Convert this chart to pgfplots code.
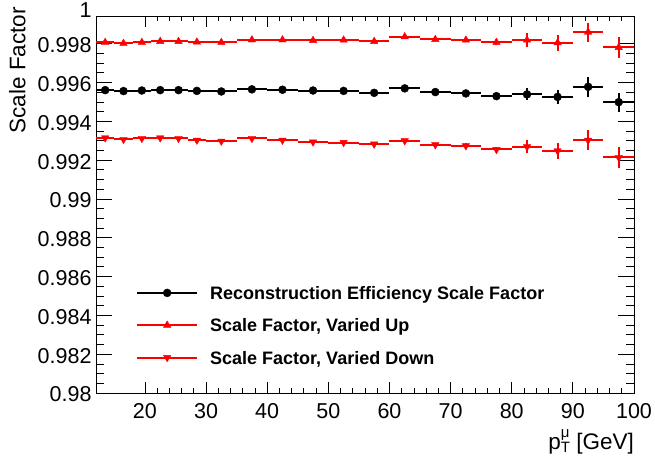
\documentclass[border=0pt]{standalone}
\usepackage{pgfplots}
\pgfplotsset{compat=1.18}
\usepackage{fontspec}
\setmainfont{Liberation Sans}

% bin centre, half width, then value / error for nominal, up, down
\pgfplotstableread{
x    ex   yn      en      yu      eu      yd      ed
13.5 1.5 0.99561 0.00005 0.99807 0.00005 0.99315 0.00005
16.5 1.5 0.99556 0.00005 0.99802 0.00005 0.99307 0.00005
19.5 1.5 0.99559 0.00005 0.99807 0.00005 0.99312 0.00005
22.5 1.5 0.99561 0.00005 0.99812 0.00005 0.99315 0.00005
25.5 1.5 0.99561 0.00005 0.99812 0.00005 0.99312 0.00005
28.5 1.5 0.99557 0.00005 0.99809 0.00005 0.99303 0.00005
32.5 2.5 0.99554 0.00005 0.99807 0.00005 0.99298 0.00005
37.5 2.5 0.99565 0.00005 0.99820 0.00005 0.99312 0.00005
42.5 2.5 0.99563 0.00005 0.99820 0.00005 0.99303 0.00005
47.5 2.5 0.99559 0.00006 0.99817 0.00006 0.99294 0.00006
52.5 2.5 0.99557 0.00006 0.99819 0.00006 0.99291 0.00006
57.5 2.5 0.99547 0.00007 0.99812 0.00007 0.99283 0.00007
62.5 2.5 0.99570 0.00008 0.99836 0.00008 0.99300 0.00008
67.5 2.5 0.99551 0.00010 0.99822 0.00010 0.99279 0.00010
72.5 2.5 0.99544 0.00012 0.99819 0.00012 0.99274 0.00012
77.5 2.5 0.99530 0.00015 0.99807 0.00015 0.99255 0.00015
82.5 2.5 0.99539 0.00031 0.99819 0.00034 0.99269 0.00033
87.5 2.5 0.99526 0.00036 0.99805 0.00041 0.99248 0.00040
92.5 2.5 0.99578 0.00052 0.99860 0.00049 0.99303 0.00050
97.5 2.5 0.99499 0.00049 0.99781 0.00052 0.99214 0.00052
}\sftable

\begin{document}
\begin{tikzpicture}
\useasboundingbox (0,0) rectangle (655pt,467pt);
\begin{axis}[
  at={(96pt,74pt)}, anchor=south west,
  scale only axis, width=538pt, height=377pt,
  xmin=12, xmax=100, ymin=0.98, ymax=0.99943,
  xtick={20,30,...,100}, minor x tick num=4,
  ytick={0.98,0.982,0.984,0.986,0.988,0.99,0.992,0.994,0.996,0.998},
  minor y tick num=3,
  extra y ticks={0.99943}, extra y tick labels={1},
  extra y tick style={minor y tick num=0, major tick length=0pt,
    yticklabel style={yshift=7.5pt}},
  scaled y ticks=false,
  tick pos=both, tick align=inside,
  xtick style={/pgfplots/major tick length=11pt,/pgfplots/minor tick length=5.5pt},
  ytick style={/pgfplots/major tick length=16pt,/pgfplots/minor tick length=8pt},
  every tick/.append style={black, line width=0.8pt},
  axis line style={line width=0.8pt},
  /pgf/number format/assume math mode=true,
  tick label style={font=\fontsize{21.5}{24}\selectfont},
  yticklabel style={/pgf/number format/fixed,/pgf/number format/precision=3,
    inner sep=0pt, xshift=-4.3pt, yshift=-1.5pt},
  xticklabel style={inner sep=0pt, yshift=-10pt},
  ylabel={Scale Factor},
  ylabel style={at={(axis description cs:-0.1307,1.0239)}, anchor=south east,
    inner sep=0pt, font=\fontsize{22.5}{26}\selectfont},
  xlabel={p\rlap{\raisebox{12pt}{\fontsize{15}{15}\selectfont μ}}\raisebox{-3pt}{\fontsize{15}{15}\selectfont T} [GeV]},
  xlabel style={at={(axis description cs:1,0)}, anchor=base east,
    yshift=-56pt, inner sep=0pt, font=\fontsize{22.5}{26}\selectfont},
  legend cell align=left,
  legend style={at={(0.0743,0.2833)}, anchor=north west, draw=none, fill=none,
    inner sep=0pt, row sep=19.3pt, column sep=12pt,
    nodes={inner sep=0pt, text height=13pt, text depth=0pt},
    font=\fontsize{18}{20}\selectfont\bfseries},
  legend image code/.code={
    \draw[line width=2pt] (0pt,0pt) -- (60pt,0pt);
    \draw plot coordinates {(30pt,0pt)};},
]
\addplot[black, only marks, mark=*, mark size=4pt,
  error bars/.cd, x dir=both, x explicit, y dir=both, y explicit,
  error mark=none, error bar style={line width=2pt}]
  table[x=x, y=yn, x error=ex, y error=en] {\sftable};
\addlegendentry{Reconstruction Efficiency Scale Factor}
\addplot[red, only marks, mark=triangle*, mark size=4.3pt,
  error bars/.cd, x dir=both, x explicit, y dir=both, y explicit,
  error mark=none, error bar style={line width=2pt}]
  table[x=x, y=yu, x error=ex, y error=eu] {\sftable};
\addlegendentry{Scale Factor, Varied Up}
\addplot[red, only marks, mark=triangle*, mark size=4.3pt, mark options={rotate=180},
  error bars/.cd, x dir=both, x explicit, y dir=both, y explicit,
  error mark=none, error bar style={line width=2pt}]
  table[x=x, y=yd, x error=ex, y error=ed] {\sftable};
\addlegendentry{Scale Factor, Varied Down}
\end{axis}
\end{tikzpicture}
\end{document}
